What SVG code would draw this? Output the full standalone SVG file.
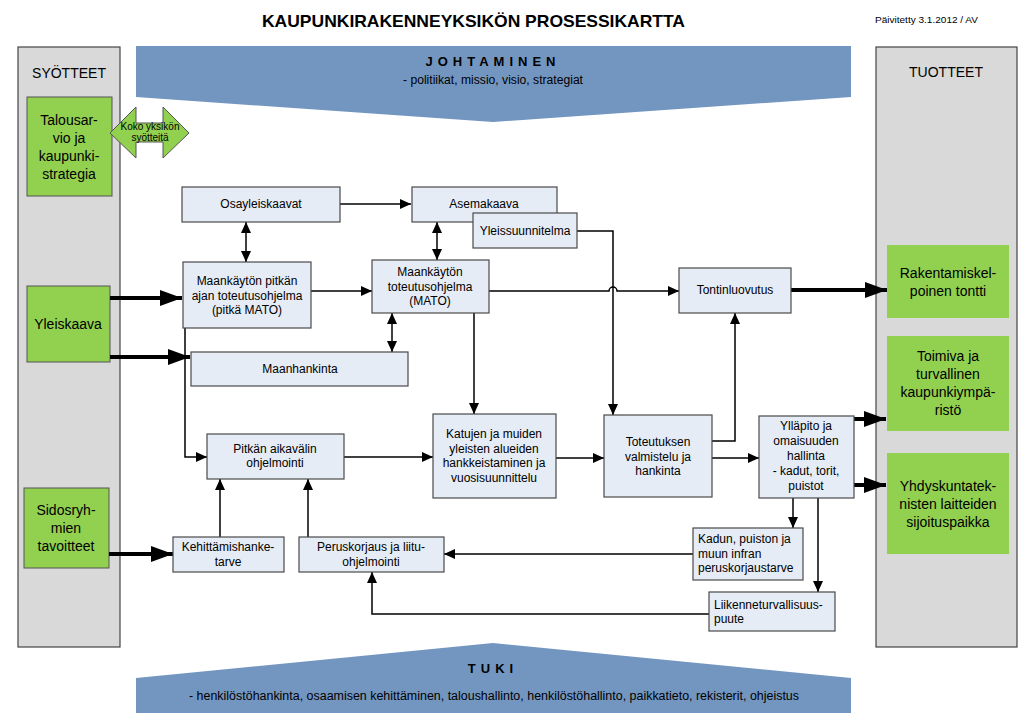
<svg xmlns="http://www.w3.org/2000/svg" width="1031" height="724" viewBox="0 0 1031 724">
<defs>
<style>
text{font-family:"Liberation Sans",Arial,sans-serif;fill:#000}
.n{fill:#E6ECF6;stroke:#4a4a4a;stroke-width:1.2}
.g{fill:#92D050;stroke:#555;stroke-width:1}
.col{fill:#D9D9D9;stroke:#444;stroke-width:1.2}
.t{font-size:12px;text-anchor:middle}
.tl{font-size:12px}
.gt{font-size:14px;text-anchor:middle}
.c{fill:none;stroke:#000;stroke-width:1.5}
.k{fill:none;stroke:#000;stroke-width:4}
.blue{fill:#7396C1}
</style>
<marker id="a" markerUnits="userSpaceOnUse" markerWidth="11" markerHeight="10" refX="11" refY="5" orient="auto-start-reverse"><path d="M0,0 L11,5 L0,10 z" fill="#000"/></marker>
<marker id="A" markerUnits="userSpaceOnUse" markerWidth="22" markerHeight="16" refX="22" refY="8" orient="auto"><path d="M0,0 L22,8 L0,16 z" fill="#000"/></marker>
</defs>
<rect width="1031" height="724" fill="#fff"/>
<text x="262" y="27" font-size="17" font-weight="bold" textLength="423" lengthAdjust="spacingAndGlyphs">KAUPUNKIRAKENNEYKSIKÖN PROSESSIKARTTA</text>
<text x="875" y="23" font-size="9.5" textLength="103" lengthAdjust="spacingAndGlyphs">Päivitetty 3.1.2012 / AV</text>

<g id="syotteet"><rect class="col" x="18" y="47" width="102" height="600"/><text class="gt" x="69" y="78">SYÖTTEET</text></g>
<g id="tuotteet"><rect class="col" x="876" y="47" width="141" height="600"/><text class="gt" x="946" y="77">TUOTTEET</text></g>

<g id="johtaminen"><path class="blue" d="M136,46 H851 V97 L493,122 L136,97 Z"/>
<text x="493" y="66" font-size="13" font-weight="bold" text-anchor="middle" letter-spacing="5">JOHTAMINEN</text>
<text x="403" y="84" font-size="12" textLength="180" lengthAdjust="spacingAndGlyphs">- politiikat, missio, visio, strategiat</text></g>

<g id="tuki"><path class="blue" d="M136,678 L493,643 L851,678 V713 H136 Z"/>
<text x="493" y="673" font-size="13" font-weight="bold" text-anchor="middle" letter-spacing="5">TUKI</text>
<text x="189" y="700" font-size="12" textLength="610" lengthAdjust="spacingAndGlyphs">- henkilöstöhankinta, osaamisen kehittäminen, taloushallinto, henkilöstöhallinto, paikkatieto, rekisterit, ohjeistus</text></g>

<g id="talousarvio"><rect class="g" x="27" y="97" width="85" height="99"/>
<text class="gt" x="69"><tspan x="69" y="125">Talousar-</tspan><tspan x="69" y="143">vio ja</tspan><tspan x="69" y="161">kaupunki-</tspan><tspan x="69" y="179">strategia</tspan></text></g>
<g id="koko"><path class="g" d="M110,133 L136,107 V123 H163 V107 L189,133 L163,158 V142 H136 V158 Z"/>
<text x="150" y="130" font-size="10" text-anchor="middle">Koko yksikön</text><text x="150" y="141" font-size="10" text-anchor="middle">syötteitä</text></g>
<g id="yleiskaava"><rect class="g" x="27" y="286" width="83" height="76"/><text class="gt" x="68" y="329">Yleiskaava</text></g>
<g id="sidosryhmat"><rect class="g" x="24" y="488" width="85" height="80"/>
<text class="gt"><tspan x="66" y="515">Sidosryh-</tspan><tspan x="66" y="533">mien</tspan><tspan x="66" y="551">tavoitteet</tspan></text></g>
<g id="rakentamiskelpoinen"><rect x="887" y="245" width="122" height="73" fill="#92D050"/>
<text class="gt"><tspan x="948" y="278">Rakentamiskel-</tspan><tspan x="948" y="296">poinen tontti</tspan></text></g>
<g id="toimiva"><rect x="887" y="336" width="122" height="95" fill="#92D050"/>
<text class="gt"><tspan x="948" y="361">Toimiva ja</tspan><tspan x="948" y="379">turvallinen</tspan><tspan x="948" y="397">kaupunkiympä-</tspan><tspan x="948" y="415">ristö</tspan></text></g>
<g id="yhdyskunta"><rect x="887" y="453" width="122" height="101" fill="#92D050"/>
<text class="gt"><tspan x="948" y="491">Yhdyskuntatek-</tspan><tspan x="948" y="509">nisten laitteiden</tspan><tspan x="948" y="527">sijoituspaikka</tspan></text></g>

<g id="connectors">
<path class="k" d="M110,298 H182" marker-end="url(#A)"/>
<path class="k" d="M110,357 H190" marker-end="url(#A)"/>
<path class="k" d="M109,554 H173" marker-end="url(#A)"/>
<path class="k" d="M791,290 H887" marker-end="url(#A)"/>
<path class="k" d="M854,419 H886" marker-end="url(#A)"/>
<path class="k" d="M854,485 H886" marker-end="url(#A)"/>
<path class="c" d="M340,204 H411" marker-end="url(#a)"/>
<path class="c" d="M246,222 V262" marker-start="url(#a)" marker-end="url(#a)"/>
<path class="c" d="M437,222 V260" marker-start="url(#a)" marker-end="url(#a)"/>
<path class="c" d="M392,313 V352" marker-start="url(#a)" marker-end="url(#a)"/>
<path class="c" d="M311,291 H372" marker-end="url(#a)"/>
<path class="c" d="M489,291 H609 A4,4 0 0 1 617,291 H679" marker-end="url(#a)"/>
<path class="c" d="M577,231 H613 V415" marker-end="url(#a)"/>
<path class="c" d="M474,313 V414" marker-end="url(#a)"/>
<path class="c" d="M185,328 V457 H207" marker-end="url(#a)"/>
<path class="c" d="M344,457 H433" marker-end="url(#a)"/>
<path class="c" d="M556,458 H604" marker-end="url(#a)"/>
<path class="c" d="M712,458 H759" marker-end="url(#a)"/>
<path class="c" d="M712,441 H735 V313" marker-end="url(#a)"/>
<path class="c" d="M793,498 V528" marker-end="url(#a)"/>
<path class="c" d="M818,498 V592" marker-end="url(#a)"/>
<path class="c" d="M693,554 H444" marker-end="url(#a)"/>
<path class="c" d="M709,614 H372 V572" marker-end="url(#a)"/>
<path class="c" d="M220,537 V479" marker-end="url(#a)"/>
<path class="c" d="M308,537 V479" marker-end="url(#a)"/>
</g>

<g id="osayleiskaavat"><rect class="n" x="182" y="187" width="158" height="35"/><text class="t" x="261" y="208">Osayleiskaavat</text></g>
<g id="asemakaava"><rect class="n" x="412" y="187" width="145" height="35"/><text class="t" x="484" y="208">Asemakaava</text></g>
<g id="yleissuunnitelma"><rect class="n" x="473" y="213" width="104" height="35"/><text class="t" x="525" y="235">Yleissuunnitelma</text></g>
<g id="pitka-mato"><rect class="n" x="183" y="262" width="128" height="66"/>
<text class="t"><tspan x="247" y="285">Maankäytön pitkän</tspan><tspan x="247" y="299.5">ajan toteutusohjelma</tspan><tspan x="247" y="314">(pitkä MATO)</tspan></text></g>
<g id="mato"><rect class="n" x="372" y="260" width="117" height="53"/>
<text class="t"><tspan x="430" y="276">Maankäytön</tspan><tspan x="430" y="291">toteutusohjelma</tspan><tspan x="430" y="305">(MATO)</tspan></text></g>
<g id="maanhankinta"><rect class="n" x="191" y="352" width="217" height="34"/><text class="t" x="300" y="373">Maanhankinta</text></g>
<g id="tontinluovutus"><rect class="n" x="679" y="268" width="112" height="45"/><text class="t" x="735" y="294">Tontinluovutus</text></g>
<g id="pitkan-aikavalin"><rect class="n" x="207" y="434" width="137" height="45"/>
<text class="t"><tspan x="275" y="453">Pitkän aikavälin</tspan><tspan x="275" y="467">ohjelmointi</tspan></text></g>
<g id="katujen"><rect class="n" x="433" y="414" width="123" height="84"/>
<text class="t"><tspan x="494" y="438">Katujen ja muiden</tspan><tspan x="494" y="453">yleisten alueiden</tspan><tspan x="494" y="467">hankkeistaminen ja</tspan><tspan x="494" y="482">vuosisuunnittelu</tspan></text></g>
<g id="toteutuksen"><rect class="n" x="604" y="415" width="108" height="82"/>
<text class="t"><tspan x="658" y="446">Toteutuksen</tspan><tspan x="658" y="461">valmistelu ja</tspan><tspan x="658" y="475">hankinta</tspan></text></g>
<g id="yllapito"><rect class="n" x="759" y="416" width="95" height="82"/>
<text class="t"><tspan x="806" y="430">Ylläpito ja</tspan><tspan x="806" y="445">omaisuuden</tspan><tspan x="806" y="460">hallinta</tspan><tspan x="806" y="475">- kadut, torit,</tspan><tspan x="806" y="490">puistot</tspan></text></g>
<g id="kadun"><rect class="n" x="693" y="528" width="110" height="52"/>
<text class="tl"><tspan x="698" y="543">Kadun, puiston ja</tspan><tspan x="698" y="558">muun infran</tspan><tspan x="698" y="572">peruskorjaustarve</tspan></text></g>
<g id="liikenne"><rect class="n" x="709" y="592" width="126" height="39"/>
<text class="tl"><tspan x="714" y="609">Liikenneturvallisuus-</tspan><tspan x="714" y="623">puute</tspan></text></g>
<g id="kehittamishanke"><rect class="n" x="173" y="537" width="111" height="35"/>
<text class="t"><tspan x="228" y="551">Kehittämishanke-</tspan><tspan x="228" y="566">tarve</tspan></text></g>
<g id="peruskorjaus"><rect class="n" x="299" y="537" width="145" height="35"/>
<text class="t"><tspan x="371" y="551">Peruskorjaus ja liitu-</tspan><tspan x="371" y="566">ohjelmointi</tspan></text></g>
</svg>
